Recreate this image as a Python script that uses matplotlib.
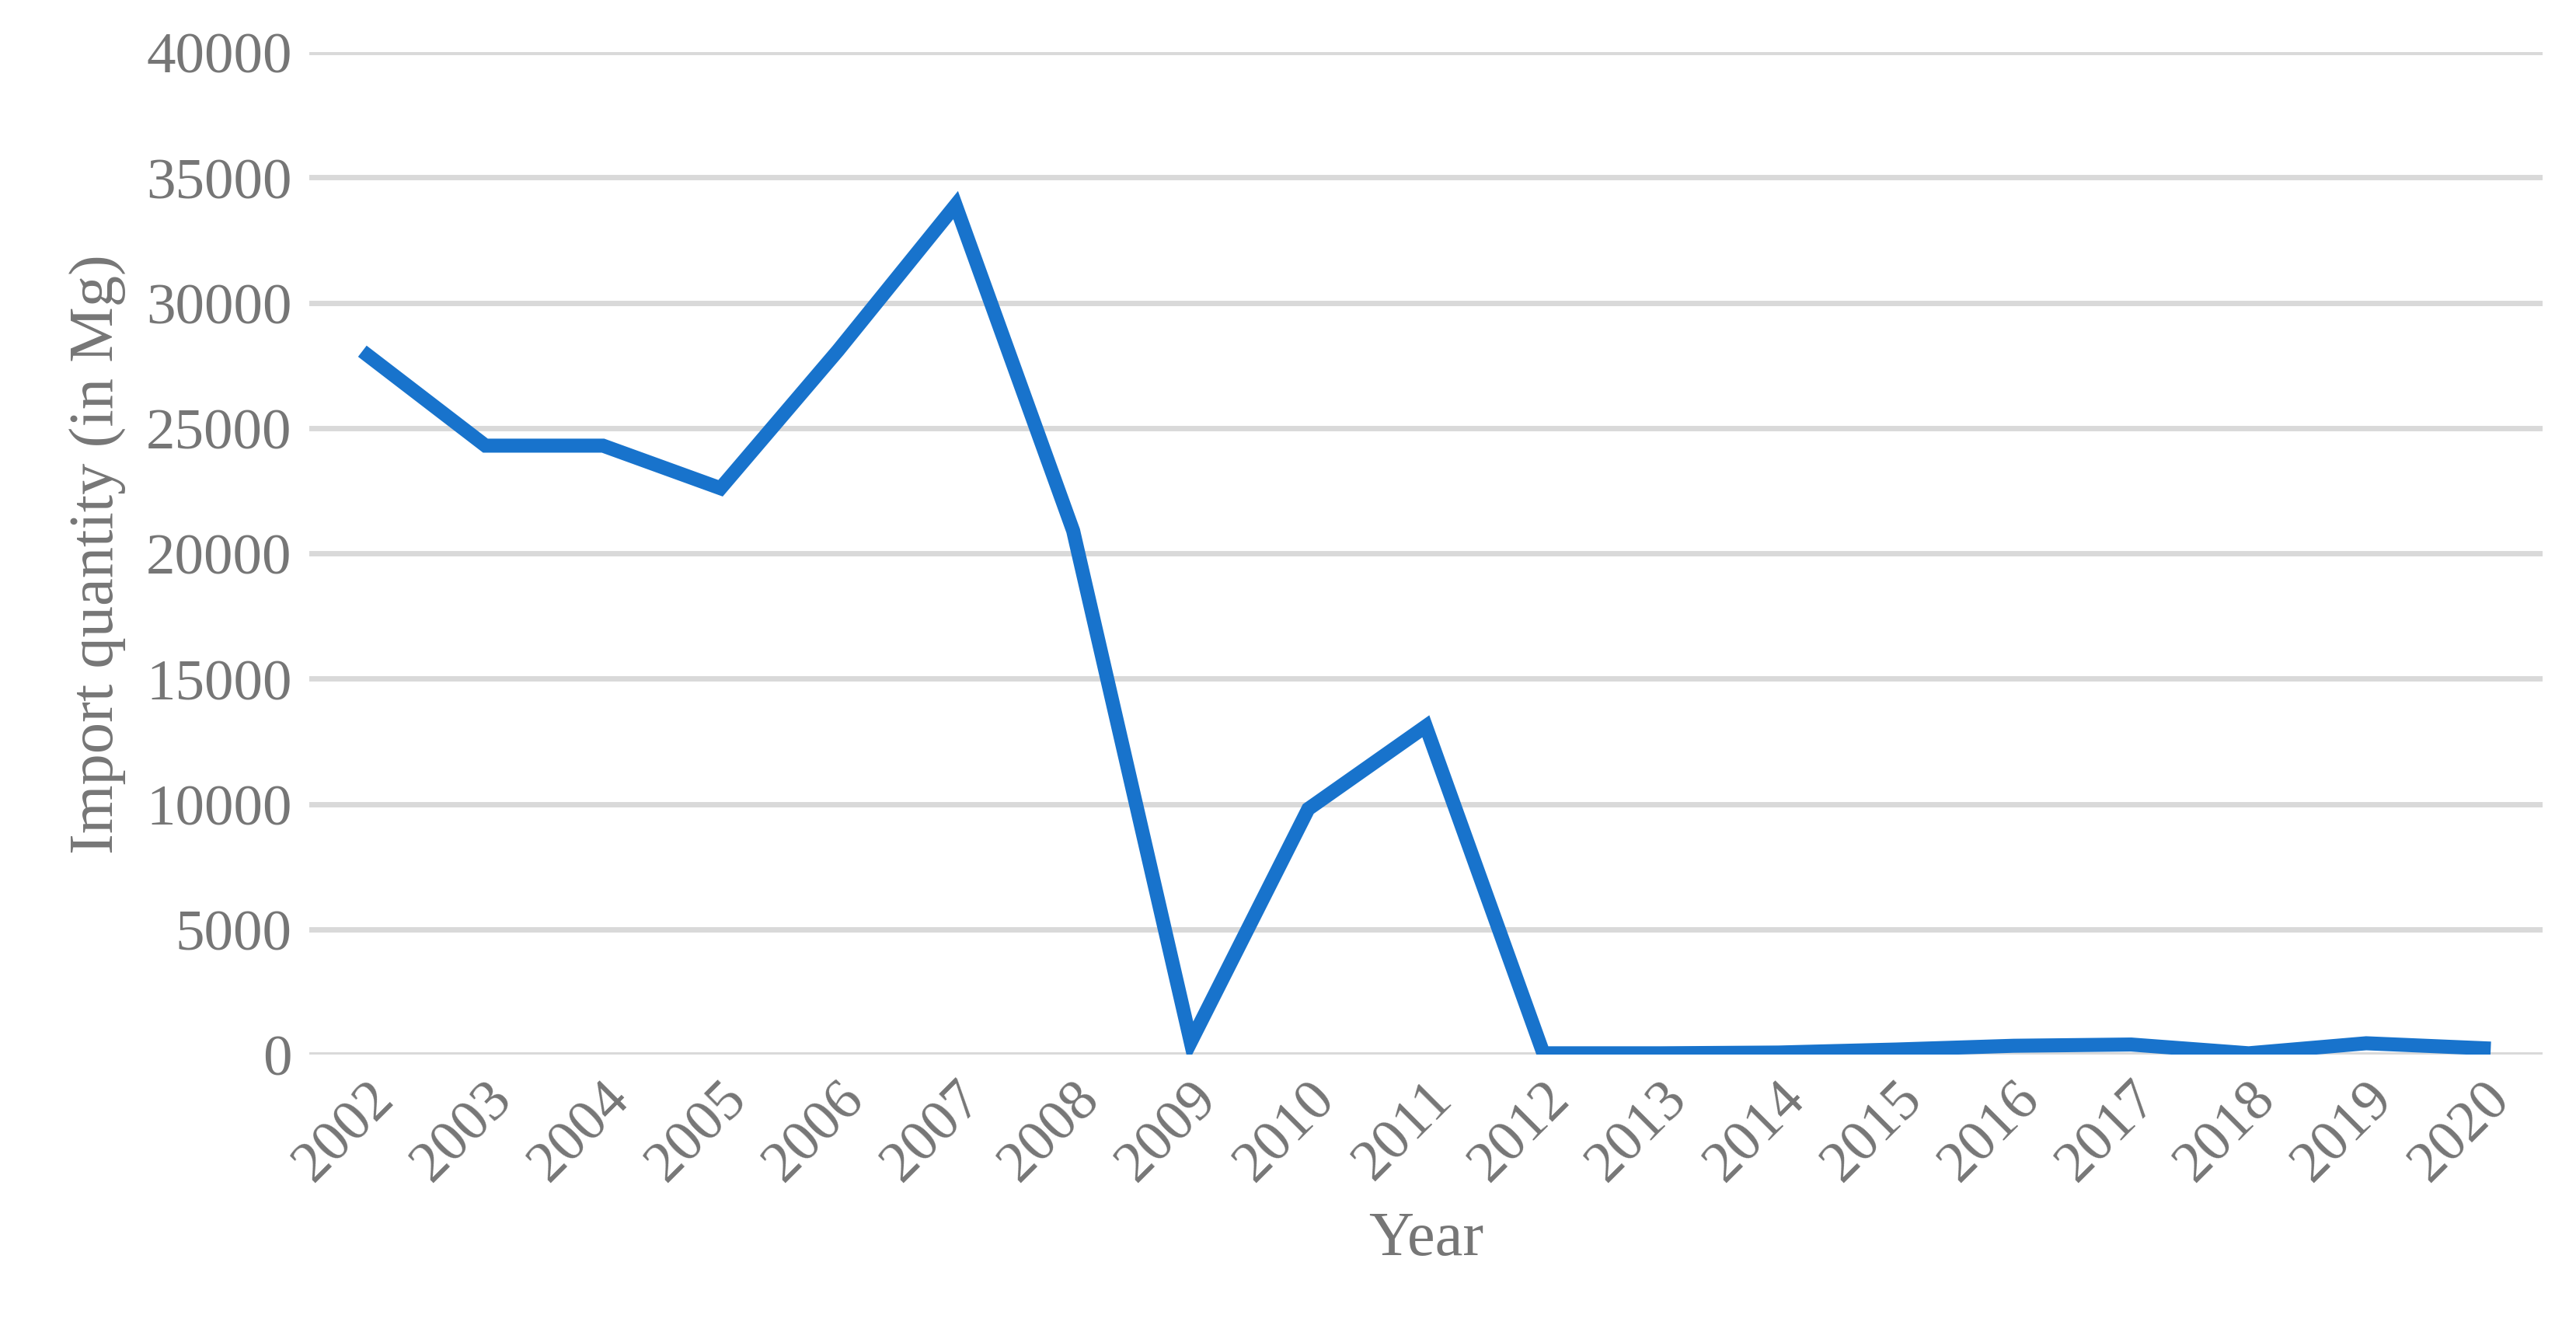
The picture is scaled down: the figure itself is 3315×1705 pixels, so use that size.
import matplotlib
matplotlib.use("Agg")
import matplotlib.pyplot as plt

years = list(range(2002, 2021))
imports = [27900, 24300, 24300, 22600, 28100, 33900, 20900, 500, 9800, 13100,
           50, 50, 80, 200, 350, 400, 50, 450, 250]
yticks = list(range(0, 40001, 5000))

plt.rcParams['font.family'] = ['Liberation Serif', 'DejaVu Serif']
gray = "#767676"

fig = plt.figure(figsize=(33.15, 17.06), dpi=100)
ax = fig.add_axes([0.12, 0.204, 0.867, 0.756])
ax.plot(years, imports, color="#1873CC", linewidth=13, solid_joinstyle="miter", zorder=3)

ax.set_xlim(2001.5, 2020.5)
ax.set_ylim(0, 40000)
ax.set_yticks(yticks)
ax.set_xticks(years)
ax.set_xticklabels([str(y) for y in years], rotation=45, ha="right", rotation_mode="anchor")
ax.grid(axis="y", color="#d9d9d9", linewidth=5)
ax.set_axisbelow(True)
for s in ax.spines.values():
    s.set_visible(False)
ax.tick_params(length=0, labelsize=54, labelcolor=gray, pad=16)
ax.set_xlabel("Year", fontsize=58, color=gray, labelpad=18)
ax.set_ylabel("Import quantity (in Mg)", fontsize=58, color=gray, labelpad=18)

fig.savefig("out.png", dpi=100)
